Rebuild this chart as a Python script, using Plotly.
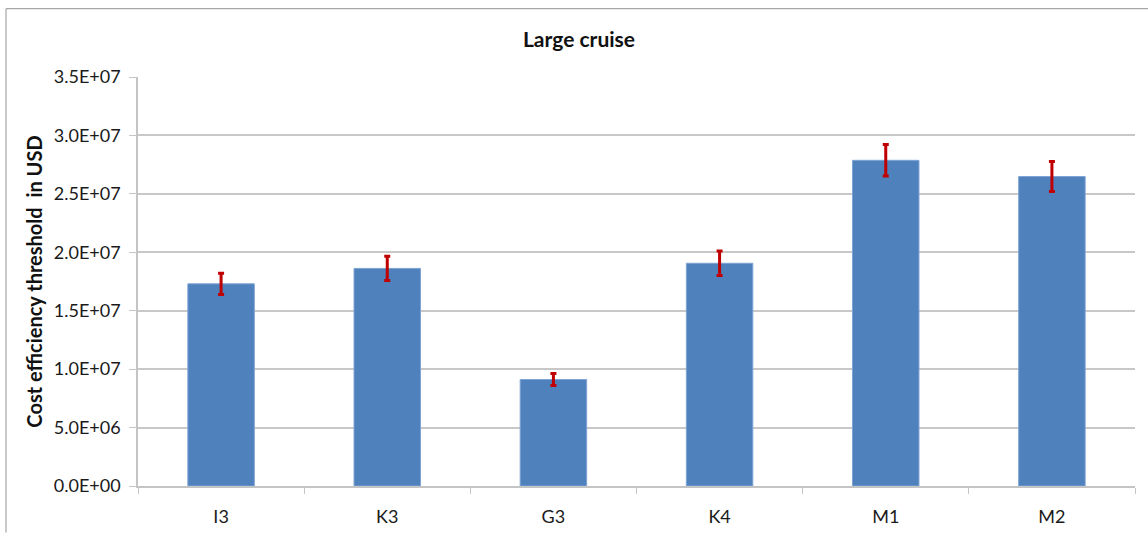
import plotly.graph_objects as go

categories = ["I3", "K3", "G3", "K4", "M1", "M2"]
values = [17.30e6, 18.62e6, 9.11e6, 19.06e6, 27.87e6, 26.48e6]
errors = [0.91e6, 1.04e6, 0.52e6, 1.04e6, 1.35e6, 1.28e6]
y_tickvals = [0, 5e6, 10e6, 15e6, 20e6, 25e6, 30e6, 35e6]
y_ticktext = ["0.0E+00", "5.0E+06", "1.0E+07", "1.5E+07", "2.0E+07", "2.5E+07", "3.0E+07", "3.5E+07"]

W, H = 1148, 533
L, R, T, B = 138, 13, 76.5, 46.5
pw, ph = W - L - R, H - T - B

fig = go.Figure(go.Bar(
    x=categories, y=values,
    marker=dict(color="#4F81BD", line=dict(color="#7DA3D4", width=1)),
    error_y=dict(type="data", array=errors, visible=True, color="#C00000", thickness=3, width=3),
    width=0.4,
))

fontfam = "Lato, 'Open Sans', sans-serif"
fig.update_layout(
    width=W, height=H,
    margin=dict(l=L, r=R, t=T, b=B),
    paper_bgcolor="white", plot_bgcolor="white",
    showlegend=False,
    font=dict(family=fontfam, size=18, color="#1a1a1a"),
    title=dict(text="<b>Large cruise</b>", x=579 / W, xref="container", xanchor="center",
               y=1 - 40 / H, yref="container", yanchor="middle",
               font=dict(size=21, color="#111111", family=fontfam)),
    xaxis=dict(
        automargin=False,
        showline=True, linecolor="#C4C4C4", linewidth=1.6,
        ticks="outside", ticklen=6, tickcolor="#C4C4C4", tickwidth=1.4, tickson="boundaries",
        showgrid=False, tickfont=dict(size=18, color="#1a1a1a"),
        ticklabelstandoff=14,
        range=[-0.5, 5.5],
    ),
    yaxis=dict(
        automargin=False,
        range=[0, 35e6], tickvals=y_tickvals, ticktext=y_ticktext,
        showline=True, linecolor="#C4C4C4", linewidth=1.6,
        ticks="outside", ticklen=7, tickcolor="#C4C4C4", tickwidth=1.4,
        ticklabelstandoff=5,
        showgrid=True, gridcolor="#C8C8C8", gridwidth=1.6,
        zeroline=False, tickfont=dict(size=18, color="#1a1a1a"),
        title=dict(text="<b>Cost efficiency threshold\u00a0 in USD</b>", standoff=6,
                   font=dict(size=20, color="#111111")),
    ),
    shapes=[
        dict(type="line", xref="paper", yref="paper",
             x0=(6 - L) / pw, x1=(W - L) / pw, y0=(H - B - 8) / ph, y1=(H - B - 8) / ph,
             line=dict(color="#A6A6A6", width=1.2)),
        dict(type="line", xref="paper", yref="paper",
             x0=(6 - L) / pw, x1=(6 - L) / pw, y0=(H - B - 8) / ph, y1=(H - B - H) / ph,
             line=dict(color="#A6A6A6", width=1.2)),
    ],
)

fig.write_html("out.html", config={"displayModeBar": False},
               post_script="document.body.style.margin='0';document.body.style.overflow='hidden';")
